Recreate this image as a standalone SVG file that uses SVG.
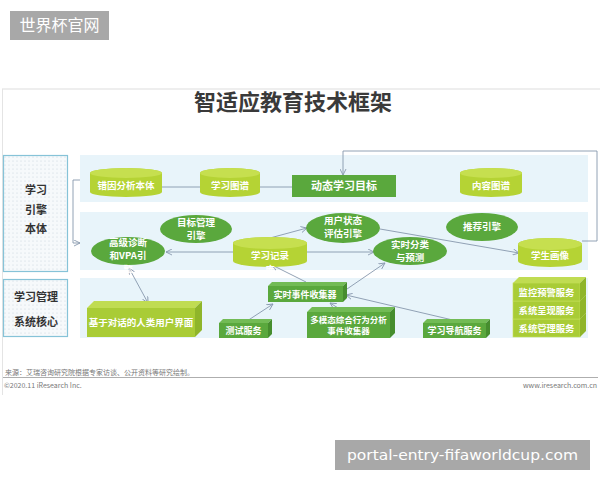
<svg xmlns="http://www.w3.org/2000/svg" width="600" height="480" viewBox="0 0 600 480">
<defs>
<pattern id="dots" width="4" height="4" patternUnits="userSpaceOnUse"><rect width="4" height="4" fill="#f6f9fb"/><circle cx="1" cy="1" r="0.6" fill="#c9d6de"/></pattern>
<marker id="arr" viewBox="0 0 8 8" refX="7" refY="4" markerWidth="7" markerHeight="7" orient="auto-start-reverse" markerUnits="userSpaceOnUse"><path d="M0,0.5 L7,4 L0,7.5" fill="none" stroke="#8797ad" stroke-width="1"/></marker>
<style>
.t{font-family:"Noto Sans CJK SC","Liberation Sans",sans-serif;font-weight:bold;fill:#fff;text-anchor:middle}
.lab{font-family:"Noto Sans CJK SC","Liberation Sans",sans-serif;font-weight:bold;fill:#333;text-anchor:middle;font-size:11px}
.panel{fill:#e8f4fa}
.lbox{fill:url(#dots);stroke:#86c3d8;stroke-width:1.2}
.cylb{fill:#b5d334}
.cylt{fill:#c6df4f}
.ell{fill:#5aa83d}
.dg{fill:#5aa83d}
.dgt{fill:#72bb55}
.dgs{fill:#468d2e}
.yg{fill:#a9cc36}
.ygt{fill:#c0dc52}
.ygs{fill:#8fb52a}
.c{fill:none;stroke:#8797ad;stroke-width:0.9}
.foot{font-family:"Noto Sans CJK SC","Liberation Sans",sans-serif;fill:#777;font-size:7px}
</style>
</defs>
<rect width="600" height="480" fill="#fff"/>
<!-- slide frame -->
<line x1="2" y1="89" x2="600" y2="89" stroke="#ddd" stroke-width="1"/>
<line x1="2.5" y1="89" x2="2.5" y2="395" stroke="#e4e4e4" stroke-width="1"/>
<text x="293" y="110" font-family="Noto Sans CJK SC, Liberation Sans, sans-serif" font-weight="bold" font-size="22" fill="#3a3a3a" text-anchor="middle">智适应教育技术框架</text>

<!-- panels -->
<rect class="panel" x="80" y="155" width="508" height="47"/>
<rect class="panel" x="80" y="212" width="508" height="58"/>
<rect class="panel" x="80" y="278" width="508" height="60"/>

<!-- left labels -->
<g id="label-engine">
<rect class="lbox" x="3.5" y="155.5" width="64" height="116"/>
<text class="lab" x="36" y="194">学习</text>
<text class="lab" x="36" y="214">引擎</text>
<text class="lab" x="36" y="233">本体</text>
</g>
<g id="label-core">
<rect class="lbox" x="3.5" y="279.5" width="64" height="57"/>
<text class="lab" x="36" y="301">学习管理</text>
<text class="lab" x="36" y="326">系统核心</text>
</g>

<!-- connectors -->
<g id="connectors">
<path class="c" d="M80,180 H73 V243 H80" marker-end="url(#arr)" stroke="#999"/>
<line class="c" x1="162" y1="187" x2="200" y2="187"/>
<line class="c" x1="260" y1="187" x2="292" y2="187"/>
<path class="c" d="M582,241 H597 V151 H343 V175" marker-end="url(#arr)" stroke="#999"/>
<line class="c" x1="233" y1="252" x2="166" y2="252" marker-end="url(#arr)"/>
<line class="c" x1="270" y1="238" x2="307" y2="228" marker-end="url(#arr)"/>
<line class="c" x1="307" y1="252" x2="374" y2="252" marker-end="url(#arr)"/>
<line class="c" x1="380" y1="229" x2="519" y2="253" marker-end="url(#arr)"/>
<line class="c" x1="129" y1="268" x2="148" y2="303" marker-start="url(#arr)" marker-end="url(#arr)"/>
<line class="c" x1="247" y1="321" x2="273" y2="304" marker-end="url(#arr)"/>
<line class="c" x1="343" y1="311" x2="330" y2="303" marker-end="url(#arr)"/>
<line class="c" x1="457" y1="321" x2="346" y2="295" marker-end="url(#arr)"/>
<line class="c" x1="306" y1="282" x2="272" y2="265" marker-end="url(#arr)"/>
<line class="c" x1="347" y1="289" x2="385" y2="263" marker-end="url(#arr)"/>
</g>

<!-- row 1 -->
<g id="cyl-cuoyin">
<path class="cylb" d="M90,173 A36,5 0 0 1 162,173 V192 A36,5 0 0 1 90,192 Z"/>
<ellipse class="cylt" cx="126" cy="173" rx="36" ry="5"/>
<text class="t" x="126" y="189" font-size="9.5">错因分析本体</text>
</g>
<g id="cyl-tupu">
<path class="cylb" d="M200,173 A30,5 0 0 1 260,173 V192 A30,5 0 0 1 200,192 Z"/>
<ellipse class="cylt" cx="230" cy="173" rx="30" ry="5"/>
<text class="t" x="230" y="189" font-size="9.5">学习图谱</text>
</g>
<g id="rect-mubiao">
<rect class="dg" x="292" y="175" width="104" height="22"/>
<text class="t" x="344" y="190" font-size="11">动态学习目标</text>
</g>
<g id="cyl-neirong">
<path class="cylb" d="M460,173 A31,5 0 0 1 522,173 V192 A31,5 0 0 1 460,192 Z"/>
<ellipse class="cylt" cx="491" cy="173" rx="31" ry="5"/>
<text class="t" x="491" y="189" font-size="9.5">内容图谱</text>
</g>

<!-- row 2 -->
<g id="ell-mubiao">
<ellipse class="ell" cx="196" cy="229" rx="36" ry="14"/>
<text class="t" x="196" y="226" font-size="9.5">目标管理</text>
<text class="t" x="196" y="239" font-size="9.5">引擎</text>
</g>
<g id="ell-gaoji">
<ellipse class="ell" cx="128" cy="251" rx="37" ry="14"/>
<text class="t" x="128" y="246" font-size="9.5">高级诊断</text>
<text class="t" x="128" y="259" font-size="9.5">和VPA引</text>
<text class="t" x="128" y="273" font-size="9.5">擎</text>
</g>
<g id="cyl-jilu">
<path class="cylb" d="M233,243 A37,6 0 0 1 307,243 V261 A37,6 0 0 1 233,261 Z"/>
<ellipse class="cylt" cx="270" cy="243" rx="37" ry="6"/>
<text class="t" x="270" y="259" font-size="9.5">学习记录</text>
<text class="t" x="270" y="273" font-size="9.5">库</text>
</g>
<g id="ell-yonghu">
<ellipse class="ell" cx="343" cy="228" rx="37" ry="15"/>
<text class="t" x="343" y="224" font-size="9.5">用户状态</text>
<text class="t" x="343" y="237" font-size="9.5">评估引擎</text>
</g>
<g id="ell-shishi">
<ellipse class="ell" cx="410" cy="251" rx="37" ry="14"/>
<text class="t" x="410" y="248" font-size="9.5">实时分类</text>
<text class="t" x="410" y="261" font-size="9.5">与预测</text>
</g>
<g id="ell-tuijian">
<ellipse class="ell" cx="482" cy="227" rx="36" ry="14"/>
<text class="t" x="482" y="230" font-size="9.5">推荐引擎</text>
</g>
<g id="cyl-huaxiang">
<path class="cylb" d="M518,244 A32,6 0 0 1 582,244 V261 A32,6 0 0 1 518,261 Z"/>
<ellipse class="cylt" cx="550" cy="244" rx="32" ry="6"/>
<text class="t" x="550" y="259" font-size="9.5">学生画像</text>
</g>

<!-- row 3 -->
<g id="box-duihua">
<rect class="yg" x="87" y="308" width="108" height="29"/>
<polygon class="ygt" points="87,308 94,301 202,301 195,308"/>
<polygon class="ygs" points="195,308 202,301 202,330 195,337"/>
<text class="t" x="141" y="326" font-size="9.5">基于对话的人类用户界面</text>
</g>
<g id="box-shijian">
<rect class="dg" x="268" y="286" width="75" height="16"/>
<polygon class="dgt" points="268,286 272,282 347,282 343,286"/>
<polygon class="dgs" points="343,286 347,282 347,298 343,302"/>
<text class="t" x="305" y="297.5" font-size="9">实时事件收集器</text>
</g>
<g id="box-ceshi">
<rect class="dg" x="219" y="323" width="49" height="15"/>
<polygon class="dgt" points="219,323 223,319 272,319 268,323"/>
<polygon class="dgs" points="268,323 272,319 272,334 268,338"/>
<text class="t" x="243.5" y="334" font-size="9">测试服务</text>
</g>
<g id="box-duomotai">
<rect class="dg" x="307" y="312" width="83" height="26"/>
<polygon class="dgt" points="307,312 312,307 395,307 390,312"/>
<polygon class="dgs" points="390,312 395,307 395,333 390,338"/>
<text class="t" x="348.5" y="323" font-size="8.5">多模态综合行为分析</text>
<text class="t" x="348.5" y="334" font-size="8.5">事件收集器</text>
</g>
<g id="box-daohang">
<rect class="dg" x="423" y="323" width="63" height="15"/>
<polygon class="dgt" points="423,323 427,319 490,319 486,323"/>
<polygon class="dgs" points="486,323 490,319 490,334 486,338"/>
<text class="t" x="454.5" y="334" font-size="9">学习导航服务</text>
</g>
<g id="box-guanli">
<rect class="yg" x="513" y="319" width="67" height="18" stroke="#c7df5c" stroke-width="0.6"/>
<polygon class="ygt" points="513,319 519,313 586,313 580,319"/>
<polygon class="ygs" points="580,319 586,313 586,331 580,337"/>
<text class="t" x="546.5" y="331.5" font-size="9.3">系统管理服务</text>
</g>
<g id="box-chengxian">
<rect class="yg" x="513" y="301" width="67" height="18" stroke="#c7df5c" stroke-width="0.6"/>
<polygon class="ygt" points="513,301 519,295 586,295 580,301"/>
<polygon class="ygs" points="580,301 586,295 586,313 580,319"/>
<text class="t" x="546.5" y="313.5" font-size="9.3">系统呈现服务</text>
</g>
<g id="box-jiankong">
<rect class="yg" x="513" y="283" width="67" height="18" stroke="#c7df5c" stroke-width="0.6"/>
<polygon class="ygt" points="513,283 519,277 586,277 580,283"/>
<polygon class="ygs" points="580,283 586,277 586,295 580,301"/>
<text class="t" x="546.5" y="295.5" font-size="9.3">监控预警服务</text>
</g>

<!-- footer -->
<text class="foot" x="5" y="375">来源：艾瑞咨询研究院根据专家访谈、公开资料等研究绘制。</text>
<line x1="3" y1="377.5" x2="598" y2="377.5" stroke="#999" stroke-width="0.8"/>
<text class="foot" x="4" y="388">©2020.11 iResearch Inc.</text>
<text class="foot" x="597" y="388" text-anchor="end">www.iresearch.com.cn</text>

<!-- watermarks -->
<rect x="10" y="11" width="99" height="29" fill="#a8a8a8"/>
<text x="59.5" y="31" font-family="Noto Sans CJK SC, sans-serif" font-size="16" fill="#fff" text-anchor="middle">世界杯官网</text>
<rect x="335" y="440" width="255" height="30" fill="#a8a8a8"/>
<text x="462.5" y="460" font-family="DejaVu Sans, sans-serif" font-size="14.5" fill="#fff" text-anchor="middle" textLength="231" lengthAdjust="spacingAndGlyphs">portal-entry-fifaworldcup.com</text>
</svg>
